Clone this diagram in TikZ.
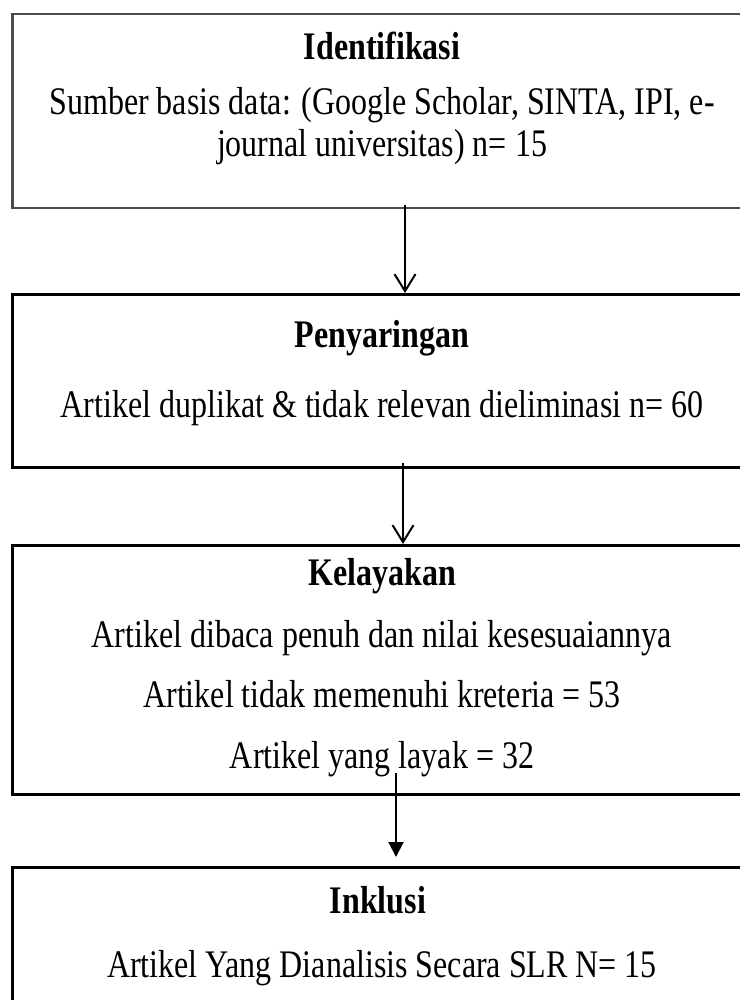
\documentclass[tikz,border=0pt]{standalone}
\usepackage{fontspec}
\setmainfont{Liberation Serif}
\usetikzlibrary{arrows.meta}
\newcommand{\drawstage}{\node[draw,rectangle,line width=2.5pt,anchor=north west,inner sep=0]}
\newcommand{\drawhead}{\node[anchor=base,yscale=1.22,font=\fontsize{32}{38}\selectfont\bfseries]}
\newcommand{\drawline}{\node[anchor=base,yscale=1.22]}
\newcommand{\drawdummy}{\coordinate}

\begin{document}
\begin{tikzpicture}[x=1pt, y=-1pt, every node/.style={font=\fontsize{32}{38}\selectfont},
  openarrow/.style={-{Straight Barb[length=17pt,width=21pt]}, line width=2pt},
  solidarrow/.style={-{Triangle[length=15pt,width=15pt]}, line width=2pt}]
\useasboundingbox (0,0) rectangle (739,1000);
%stages of the review
\drawstage[draw=black!70, minimum width=742pt, minimum height=194pt] (s1) at (11,13) {};
\drawstage[minimum width=742pt, minimum height=173pt] (s2) at (11,293) {};
\drawstage[minimum width=742pt, minimum height=249pt] (s3) at (11,544) {};
\drawstage[minimum width=742pt, minimum height=150pt] (s4) at (11,866) {};

\drawhead (t1) at (382,60) {Identifikasi};
\drawline (l1a) at (382,115) {Sumber basis data: (Google Scholar, SINTA, IPI, e-};
\drawline (l1b) at (382,157) {journal universitas) n= 15};

\drawhead (t2) at (382,347) {Penyaringan};
\drawline (l2a) at (382,417) {Artikel duplikat \& tidak relevan dieliminasi n= 60};

\drawhead (t3) at (382,585) {Kelayakan};
\drawline (l3a) at (382,647) {Artikel dibaca penuh dan nilai kesesuaiannya};
\drawline (l3b) at (382,707) {Artikel tidak memenuhi kreteria = 53};
\drawline (l3c) at (382,768) {Artikel yang layak = 32};

\drawhead (t4) at (378,913) {Inklusi};
\drawline (l4a) at (382,977) {Artikel Yang Dianalisis Secara SLR N= 15};

%arrow ends
\drawdummy (a1) at (405,205);
\drawdummy (b1) at (405,293);
\drawdummy (a2) at (403,463);
\drawdummy (b2) at (403,544);
\drawdummy (a3) at (396,773);
\drawdummy (b3) at (396,857);

\draw[openarrow] (a1) to (b1);
\draw[openarrow] (a2) to (b2);
\draw[solidarrow] (a3) to (b3);
\end{tikzpicture}
\end{document}
